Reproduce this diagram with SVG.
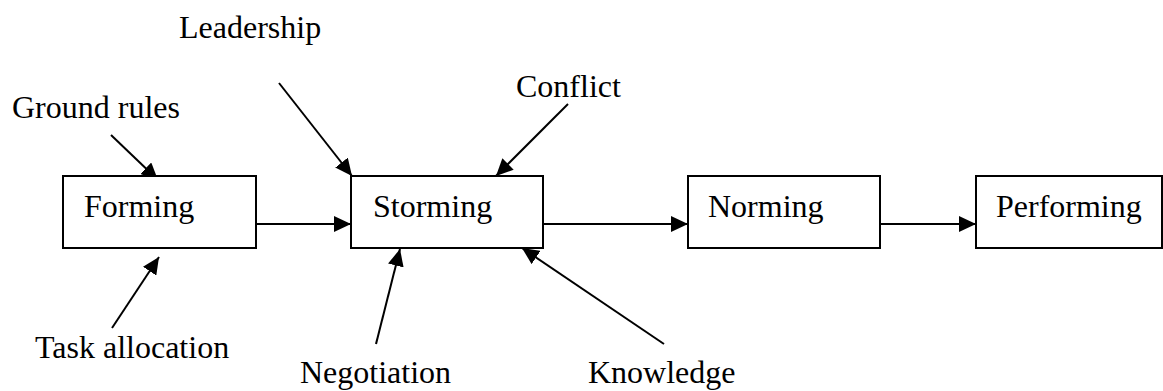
<svg xmlns="http://www.w3.org/2000/svg" width="1163" height="391" viewBox="0 0 1163 391">
  <style>
    .box { fill: #ffffff; stroke: #000000; stroke-width: 2; }
    .lbl { font-family: 'Liberation Serif', 'DejaVu Serif', serif; font-size: 32px; fill: #000000; }
    .arrow { stroke: #000000; stroke-width: 2; fill: none; marker-end: url(#head); }
  </style>
  <defs>
    <marker id="head" markerUnits="userSpaceOnUse" markerWidth="18" markerHeight="16" refX="17" refY="8" orient="auto">
      <path d="M0,0 L17,8 L0,16 z" fill="#000000"/>
    </marker>
  </defs>
  <rect width="1163" height="391" fill="#ffffff"/>

  <g id="connectors">
    <line class="arrow" x1="256" y1="224" x2="351" y2="224"/>
    <line class="arrow" x1="543" y1="224" x2="688" y2="224"/>
    <line class="arrow" x1="880" y1="224" x2="976" y2="224"/>
    <line class="arrow" x1="111" y1="135" x2="158" y2="180"/>
    <line class="arrow" x1="112" y1="328" x2="159" y2="257"/>
    <line class="arrow" x1="279" y1="83" x2="352" y2="176"/>
    <line class="arrow" x1="568" y1="104" x2="496" y2="176"/>
    <line class="arrow" x1="376" y1="344" x2="400" y2="249"/>
    <line class="arrow" x1="664" y1="344" x2="522" y2="248"/>
  </g>

  <g id="forming">
    <rect class="box" x="63" y="176" width="193" height="72"/>
    <text class="lbl" x="84" y="217">Forming</text>
  </g>
  <g id="storming">
    <rect class="box" x="351" y="176" width="192" height="72"/>
    <text class="lbl" x="373" y="217">Storming</text>
  </g>
  <g id="norming">
    <rect class="box" x="688" y="176" width="192" height="72"/>
    <text class="lbl" x="708" y="217">Norming</text>
  </g>
  <g id="performing">
    <rect class="box" x="976" y="176" width="186" height="72"/>
    <text class="lbl" x="996" y="217">Performing</text>
  </g>

  <g id="ground-rules"><text class="lbl" x="12" y="118">Ground rules</text></g>
  <g id="leadership"><text class="lbl" x="179" y="38">Leadership</text></g>
  <g id="conflict"><text class="lbl" x="516" y="97">Conflict</text></g>
  <g id="task-allocation"><text class="lbl" x="35" y="358">Task allocation</text></g>
  <g id="negotiation"><text class="lbl" x="300" y="383">Negotiation</text></g>
  <g id="knowledge"><text class="lbl" x="588" y="383">Knowledge</text></g>
</svg>
